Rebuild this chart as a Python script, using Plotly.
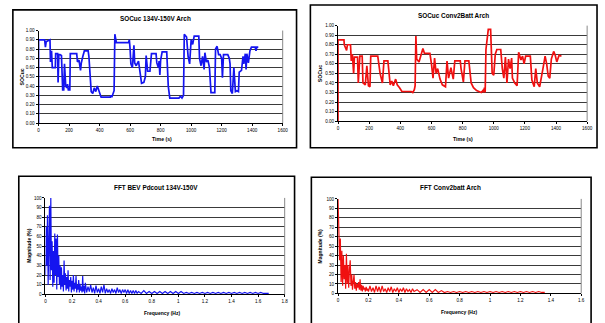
import plotly.graph_objects as go

# ---------------- data ----------------
t_blue = [0, 0, 40, 45, 50, 75, 78, 85, 90, 110, 112, 125, 128, 133, 140, 150, 158, 165, 170, 178,
          185, 190, 195, 205, 208, 250, 255, 265, 275, 280, 290, 300, 325, 330, 345, 355, 365, 375, 385, 395,
          400, 410, 470, 475, 480, 490, 495, 500, 505, 510, 590, 595, 600, 605, 615, 625, 630, 640, 655, 665,
          675, 690, 700, 705, 715, 730, 740, 770, 775, 785, 790, 795, 800, 810, 840, 850, 860, 920, 930, 940,
          950, 955, 970, 980, 990, 1000, 1010, 1020, 1050, 1055, 1065, 1075, 1085, 1090, 1100, 1110, 1120, 1130, 1155, 1160,
          1170, 1180, 1190, 1200, 1205, 1212, 1240, 1250, 1255, 1260, 1270, 1280, 1290, 1300, 1310, 1315, 1330, 1340, 1345, 1355,
          1360, 1365, 1375, 1385, 1395, 1420, 1425, 1430, 1440]
soc_blue = [0.00, 0.90, 0.90, 0.82, 0.88, 0.90, 0.66, 0.78, 0.60, 0.60, 0.75, 0.75, 0.44, 0.74, 0.74, 0.73, 0.36, 0.36, 0.64, 0.40,
            0.38, 0.42, 0.36, 0.36, 0.75, 0.75, 0.66, 0.68, 0.57, 0.65, 0.72, 0.78, 0.78, 0.72, 0.34, 0.32, 0.38, 0.34, 0.40, 0.34,
            0.34, 0.28, 0.28, 0.30, 0.28, 0.33, 0.35, 0.96, 0.90, 0.87, 0.87, 0.90, 0.80, 0.64, 0.60, 0.84, 0.65, 0.62, 0.67, 0.56,
            0.43, 0.44, 0.50, 0.73, 0.56, 0.56, 0.75, 0.75, 0.65, 0.60, 0.67, 0.52, 0.68, 0.77, 0.77, 0.40, 0.27, 0.27, 0.29, 0.27,
            0.30, 0.96, 0.93, 0.72, 0.64, 0.90, 0.85, 0.94, 0.94, 0.70, 0.62, 0.72, 0.58, 0.76, 0.66, 0.68, 0.60, 0.33, 0.33, 0.80,
            0.83, 0.74, 0.74, 0.70, 0.49, 0.74, 0.74, 0.70, 0.64, 0.35, 0.32, 0.60, 0.34, 0.35, 0.34, 0.55, 0.57, 0.72, 0.64, 0.75,
            0.58, 0.75, 0.65, 0.78, 0.82, 0.82, 0.78, 0.82, 0.82]

t_red = [0, 0, 38, 40, 55, 60, 70, 80, 85, 92, 100, 105, 125, 130, 140, 155, 160, 175, 185, 195,
         205, 210, 255, 270, 285, 295, 320, 335, 345, 355, 370, 380, 395, 410, 470, 480, 490, 495, 500, 505,
         520, 535, 545, 555, 590, 600, 610, 620, 630, 640, 655, 670, 690, 700, 710, 725, 740, 750, 785, 790,
         800, 805, 815, 840, 855, 870, 890, 920, 930, 935, 940, 945, 950, 960, 965, 980, 990, 1000, 1010, 1020,
         1045, 1055, 1065, 1075, 1085, 1095, 1105, 1115, 1120, 1135, 1150, 1160, 1175, 1185, 1195, 1205, 1235, 1245, 1260, 1270,
         1280, 1295, 1300, 1315, 1330, 1340, 1350, 1360, 1370, 1385, 1395, 1405, 1420, 1435]
soc_red = [0.00, 0.85, 0.85, 0.80, 0.74, 0.80, 0.80, 0.80, 0.63, 0.70, 0.50, 0.67, 0.67, 0.40, 0.68, 0.68, 0.40, 0.38, 0.58, 0.37,
           0.36, 0.68, 0.68, 0.50, 0.40, 0.63, 0.63, 0.38, 0.42, 0.37, 0.44, 0.38, 0.35, 0.31, 0.31, 0.30, 0.33, 0.37, 0.89, 0.65,
           0.62, 0.72, 0.76, 0.71, 0.71, 0.60, 0.45, 0.66, 0.50, 0.55, 0.44, 0.38, 0.36, 0.63, 0.45, 0.56, 0.44, 0.63, 0.63, 0.55,
           0.48, 0.41, 0.63, 0.63, 0.40, 0.35, 0.32, 0.30, 0.32, 0.30, 0.35, 0.30, 0.75, 0.92, 0.96, 0.96, 0.50, 0.48, 0.70, 0.75,
           0.75, 0.55, 0.45, 0.67, 0.40, 0.65, 0.55, 0.66, 0.45, 0.40, 0.37, 0.72, 0.64, 0.68, 0.60, 0.68, 0.68, 0.43, 0.36, 0.55,
           0.40, 0.36, 0.40, 0.54, 0.68, 0.60, 0.47, 0.45, 0.65, 0.73, 0.69, 0.62, 0.69, 0.68]

f_blue = [0.000, 0.005, 0.010, 0.015, 0.020, 0.025, 0.030, 0.035, 0.040, 0.045, 0.050, 0.055, 0.060, 0.065, 0.070, 0.075,
          0.080, 0.085, 0.090, 0.095, 0.100, 0.105, 0.110, 0.115, 0.120, 0.125, 0.130, 0.135, 0.140, 0.145, 0.150, 0.155,
          0.160, 0.165, 0.170, 0.175, 0.180, 0.185, 0.190, 0.195, 0.200, 0.205, 0.210, 0.215, 0.220, 0.225, 0.230, 0.235,
          0.240, 0.245, 0.250, 0.255, 0.260, 0.265, 0.270, 0.275, 0.280, 0.285, 0.290, 0.295, 0.30, 0.31, 0.32, 0.33,
          0.34, 0.35, 0.36, 0.37, 0.38, 0.39, 0.40, 0.41, 0.42, 0.43, 0.44, 0.45, 0.46, 0.47, 0.48, 0.49,
          0.50, 0.51, 0.52, 0.53, 0.54, 0.55, 0.56, 0.57, 0.58, 0.59, 0.60, 0.61, 0.62, 0.63, 0.64, 0.65,
          0.66, 0.67, 0.68, 0.69, 0.70, 0.72, 0.74, 0.76, 0.78, 0.80, 0.82, 0.84, 0.86, 0.88, 0.90, 0.92,
          0.94, 0.96, 0.98, 1.00, 1.02, 1.04, 1.06, 1.08, 1.10, 1.12, 1.14, 1.16, 1.18, 1.20, 1.22, 1.24,
          1.26, 1.28, 1.30, 1.32, 1.34, 1.36, 1.38, 1.40, 1.42, 1.44, 1.46, 1.48, 1.50, 1.52, 1.54, 1.56,
          1.58, 1.60, 1.62, 1.64, 1.66, 1.68]
mag_blue = [20, 70, 30, 82, 10, 60, 92, 15, 100, 25, 55, 8, 45, 12, 63, 20,
            58, 5, 62, 18, 40, 10, 30, 5, 28, 8, 20, 3, 35, 10, 22, 4,
            18, 6, 25, 3, 15, 8, 18, 2, 14, 5, 20, 3, 12, 6, 19, 2,
            10, 5, 15, 2, 11, 4, 8, 2, 19, 3, 9, 1, 12, 2, 8, 3,
            10, 2, 7, 1, 9, 2, 6, 1, 8, 2, 10, 1, 6, 2, 5, 1,
            6, 2, 5, 1, 7, 2, 5, 1, 5, 2, 5, 1, 5, 1, 4, 1,
            4, 1, 4, 1, 3, 1, 4, 1, 3, 1, 3, 1, 3, 1, 3, 1,
            3, 1, 3, 1, 3, 1, 2, 1, 2, 1, 2, 1, 2, 1, 2, 1,
            2, 1, 2, 1, 2, 1, 2, 1, 2, 1, 2, 1, 2, 1, 2, 1,
            2, 1, 2, 1, 1, 1]

f_red = [0.000, 0.005, 0.010, 0.015, 0.020, 0.025, 0.030, 0.035, 0.040, 0.045, 0.050, 0.055, 0.060, 0.065, 0.070, 0.075,
         0.080, 0.085, 0.090, 0.095, 0.100, 0.105, 0.110, 0.115, 0.120, 0.125, 0.130, 0.135, 0.140, 0.145, 0.150, 0.155,
         0.160, 0.165, 0.170, 0.175, 0.180, 0.185, 0.190, 0.195, 0.200, 0.21, 0.22, 0.23, 0.24, 0.25, 0.26, 0.27,
         0.28, 0.29, 0.30, 0.31, 0.32, 0.33, 0.34, 0.35, 0.36, 0.37, 0.38, 0.39, 0.40, 0.41, 0.42, 0.43,
         0.44, 0.45, 0.46, 0.47, 0.48, 0.49, 0.50, 0.52, 0.54, 0.56, 0.58, 0.60, 0.62, 0.64, 0.66, 0.68,
         0.70, 0.72, 0.74, 0.76, 0.78, 0.80, 0.82, 0.84, 0.86, 0.88, 0.90, 0.92, 0.94, 0.96, 0.98, 1.00,
         1.02, 1.04, 1.06, 1.08, 1.10, 1.12, 1.14, 1.16, 1.18, 1.20, 1.22, 1.24, 1.26, 1.28, 1.30, 1.32,
         1.34, 1.36]
mag_red = [100, 50, 35, 58, 12, 45, 8, 40, 15, 30, 5, 42, 10, 30, 6, 25,
           35, 8, 20, 4, 15, 20, 5, 12, 3, 10, 6, 12, 4, 15, 3, 9,
           2, 8, 4, 6, 2, 7, 3, 5, 2, 8, 2, 6, 1, 8, 2, 7,
           1, 8, 2, 5, 1, 6, 2, 7, 1, 5, 2, 6, 1, 5, 2, 6,
           1, 5, 2, 4, 1, 5, 2, 4, 1, 4, 1, 4, 1, 4, 1, 3,
           1, 2, 1, 2, 1, 2, 1, 2, 1, 2, 1, 2, 1, 2, 1, 2,
           1, 2, 1, 2, 1, 2, 1, 2, 1, 2, 1, 2, 1, 2, 1, 2,
           1, 1]

soc_ticks = [0, 0.1, 0.2, 0.3, 0.4, 0.5, 0.6, 0.7, 0.8, 0.9, 1.0]
time_ticks = [0, 200, 400, 600, 800, 1000, 1200, 1400, 1600]
mag_ticks = [0, 10, 20, 30, 40, 50, 60, 70, 80, 90, 100]
freq_ticks_blue = [0, 0.2, 0.4, 0.6, 0.8, 1, 1.2, 1.4, 1.6, 1.8]
freq_ticks_red = [0, 0.2, 0.4, 0.6, 0.8, 1, 1.2, 1.4, 1.6]

# ---------------- layout helpers ----------------
W, H = 605, 323
FONT = "Liberation Sans, Arial, sans-serif"


def px_x(p):
    return p / W


def px_y(p):
    return 1 - p / H


BLUE = "#1414F0"
RED = "#F01010"

fig = go.Figure()
fig.add_trace(go.Scatter(x=t_blue, y=soc_blue, mode="lines", line=dict(color=BLUE, width=1.7),
                         xaxis="x", yaxis="y", showlegend=False))
fig.add_trace(go.Scatter(x=t_red, y=soc_red, mode="lines", line=dict(color=RED, width=1.7),
                         xaxis="x2", yaxis="y2", showlegend=False))
fig.add_trace(go.Scatter(x=f_blue, y=mag_blue, mode="lines", line=dict(color=BLUE, width=1.2),
                         xaxis="x3", yaxis="y3", showlegend=False))
fig.add_trace(go.Scatter(x=f_red, y=mag_red, mode="lines", line=dict(color=RED, width=1.2),
                         xaxis="x4", yaxis="y4", showlegend=False))

tickfont = dict(family=FONT, size=4.6, color="#000")


def xax(dom, anchor, rng, ticks, fmt=None):
    d = dict(domain=dom, anchor=anchor, range=rng, tickvals=ticks, showgrid=False,
             showline=True, linecolor="#000", linewidth=1, ticks="outside", ticklen=2,
             tickcolor="#000", tickwidth=1, tickfont=tickfont, zeroline=False, fixedrange=True,
             mirror=False)
    if fmt:
        d["tickformat"] = fmt
    return d


def yax(dom, anchor, rng, ticks, fmt=None):
    d = dict(domain=dom, anchor=anchor, range=rng, tickvals=ticks, showgrid=True,
             gridcolor="#3a3a3a", gridwidth=1, showline=True, linecolor="#000", linewidth=1,
             ticks="outside", ticklen=2, tickcolor="#000", tickwidth=1, tickfont=tickfont,
             zeroline=False, fixedrange=True)
    if fmt:
        d["tickformat"] = fmt
    return d


# plot-area pixel rectangles
TL = (38, 285, 29, 123)
TR = (341, 593, 24, 121)
BL = (45, 287, 199, 297)
BR = (341, 587, 200, 296)


def dx(r):
    return [px_x(r[0]), px_x(r[1])]


def dy(r):
    return [px_y(r[3]), px_y(r[2])]


fig.update_layout(
    width=W, height=H, margin=dict(l=0, r=0, t=0, b=0),
    paper_bgcolor="white", plot_bgcolor="white", showlegend=False,
    xaxis=xax(dx(TL), "y", [0, 1600], time_ticks),
    yaxis=yax(dy(TL), "x", [0, 1.0], soc_ticks, ".2f"),
    xaxis2=xax(dx(TR), "y2", [0, 1600], time_ticks),
    yaxis2=yax(dy(TR), "x2", [0, 1.0], soc_ticks, ".2f"),
    xaxis3=xax(dx(BL), "y3", [0, 1.8], freq_ticks_blue),
    yaxis3=yax(dy(BL), "x3", [0, 100], mag_ticks),
    xaxis4=xax(dx(BR), "y4", [0, 1.6], freq_ticks_red),
    yaxis4=yax(dy(BR), "x4", [0, 100], mag_ticks),
)

# chart-area borders and plot-area right edges
boxes = [(12, 299, 8, 148), (313, 603, 3, 148), (18, 297, 177, 340), (314, 597, 178, 340)]
shapes = []
for (x0, x1, y0, y1) in boxes:
    shapes.append(dict(type="rect", xref="paper", yref="paper", x0=px_x(x0), x1=px_x(x1),
                       y0=px_y(y1), y1=px_y(y0), line=dict(color="#000", width=1.6),
                       fillcolor="rgba(0,0,0,0)", layer="below"))
for r in (TL, TR, BL, BR):
    shapes.append(dict(type="line", xref="paper", yref="paper", x0=px_x(r[1]), x1=px_x(r[1]),
                       y0=px_y(r[3]), y1=px_y(r[2]), line=dict(color="#888", width=1)))
fig.update_layout(shapes=shapes)

ann = []


def text(x, y, s, size, bold=True, angle=0):
    ann.append(dict(x=px_x(x), y=px_y(y), xref="paper", yref="paper", text=f"<b>{s}</b>" if bold else s,
                    showarrow=False, xanchor="center", yanchor="middle", textangle=angle,
                    font=dict(family=FONT, size=size, color="#000")))


text(156, 17, "SOCuc 134V-150V Arch", 6.4)
text(458, 14, "SOCuc Conv2Batt Arch", 6.4)
text(157, 188, "FFT BEV Pdcout 134V-150V", 6.4)
text(455, 188, "FFT Conv2batt Arch", 6.4)
text(163, 139, "Time (s)", 5.2)
text(467, 139, "Time (s)", 5.2)
text(163, 316, "Frequency (Hz)", 5.0)
text(463, 315, "Frequency (Hz)", 5.0)
text(21, 76, "SOCuc", 5.2, angle=-90)
text(323, 73, "SOCuc", 5.2, angle=-90)
text(28, 248, "Magnitude (%)", 5.0, angle=-90)
text(323, 248, "Magnitude (%)", 5.0, angle=-90)
fig.update_layout(annotations=ann)

fig.write_html("out.html")
